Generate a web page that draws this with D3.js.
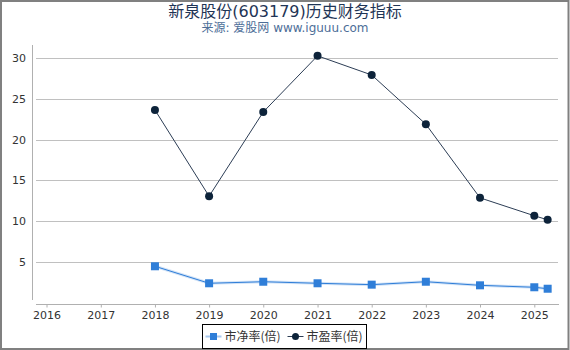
<!DOCTYPE html>
<html>
<head>
<meta charset="utf-8">
<script src="https://cdn.jsdelivr.net/npm/d3@7"></script>
<style>
  body { margin: 0; background: #fff; }
  svg { display: block; font-family: "DejaVu Sans", "Noto Sans CJK SC", sans-serif; }
  .grid line { stroke: #c0c0c0; }
</style>
</head>
<body>
<svg id="chart" width="570" height="350"></svg>
<script>
// data
const dates = ["2018-01-01", "2019-01-01", "2020-01-01", "2021-01-01", "2022-01-01",
  "2023-01-01", "2024-01-01", "2025-01-01", "2025-04-01"];
const pb = [4.44, 2.35, 2.54, 2.35, 2.18, 2.54, 2.1, 1.86, 1.68];   // 市净率(倍)
const pe = [23.65, 13.05, 23.4, 30.3, 27.95, 21.9, 12.85, 10.65, 10.15]; // 市盈率(倍)
const yearTicks = [2016, 2017, 2018, 2019, 2020, 2021, 2022, 2023, 2024, 2025];
const yTicks = [5, 10, 15, 20, 25, 30];

const svg = d3.select("svg#chart");
const parse = d3.timeParse("%Y-%m-%d");

// outer frame
svg.append("rect")
  .attr("x", 1).attr("y", 1)
  .attr("width", 567.5).attr("height", 348)
  .attr("fill", "#fff")
  .attr("stroke", "#808080")
  .attr("stroke-width", 2);

// titles
svg.append("text")
  .attr("x", 285).attr("y", 17)
  .attr("text-anchor", "middle")
  .style("font-size", "16px")
  .attr("fill", "#1f3556")
  .text("新泉股份(603179)历史财务指标");
svg.append("text")
  .attr("x", 285).attr("y", 32)
  .attr("text-anchor", "middle")
  .style("font-size", "12px")
  .attr("fill", "#4d6e98")
  .text("来源: 爱股网 www.iguuu.com");

// scales
const x = d3.scaleTime()
  .domain([new Date(2016, 0, 1), new Date(2025, 0, 1)])
  .range([46.5, 534.3]);
const y = d3.scaleLinear()
  .domain([0, 30])
  .range([302.4, 58.3]);

// gridlines
svg.append("g").attr("class", "grid")
  .selectAll("line").data(yTicks).join("line")
  .attr("x1", 36).attr("x2", 558)
  .attr("y1", d => Math.round(y(d)) + 0.5)
  .attr("y2", d => Math.round(y(d)) + 0.5);

// y axis
svg.append("line")
  .attr("x1", 32.5).attr("x2", 32.5)
  .attr("y1", 45).attr("y2", 300)
  .attr("stroke", "#b0b0b0");
svg.append("g")
  .selectAll("text").data(yTicks).join("text")
  .attr("x", 26)
  .attr("y", d => y(d) + 4)
  .attr("text-anchor", "end")
  .style("font-size", "11px")
  .attr("fill", "#333")
  .text(d => d);

// x axis
const xAxis = d3.axisBottom(x)
  .tickValues(yearTicks.map(d => new Date(d, 0, 1)))
  .tickFormat(d3.timeFormat("%Y"))
  .tickSize(3)
  .tickSizeOuter(0);
const gx = svg.append("g")
  .attr("transform", "translate(0,304.5)")
  .call(xAxis);
gx.select(".domain").remove();
gx.append("line")
  .attr("x1", 36).attr("x2", 559)
  .attr("stroke", "#b0b0b0");
gx.selectAll(".tick line").attr("stroke", "#b0b0b0");
gx.selectAll(".tick text")
  .attr("y", 7)
  .style("font-size", "11px")
  .style("font-family", "DejaVu Sans, sans-serif")
  .attr("fill", "#333");

// series
const pbData = dates.map((d, i) => ({ date: parse(d), v: pb[i] }));
const peData = dates.map((d, i) => ({ date: parse(d), v: pe[i] }));
const line = d3.line().x(d => x(d.date)).y(d => y(d.v));

svg.append("path").datum(pbData)
  .attr("fill", "none")
  .attr("stroke", "#d2e3f7")
  .attr("stroke-width", 3)
  .attr("d", line);
svg.append("path").datum(pbData)
  .attr("fill", "none")
  .attr("stroke", "#2f7ed8")
  .attr("stroke-width", 1)
  .attr("d", line);
svg.append("g")
  .selectAll("rect").data(pbData).join("rect")
  .attr("x", d => x(d.date) - 4)
  .attr("y", d => y(d.v) - 4)
  .attr("width", 8).attr("height", 8)
  .attr("fill", "#2f7ed8");

svg.append("path").datum(peData)
  .attr("fill", "none")
  .attr("stroke", "#2c3d55")
  .attr("stroke-width", 1)
  .attr("d", line);
svg.append("g")
  .selectAll("circle").data(peData).join("circle")
  .attr("cx", d => x(d.date))
  .attr("cy", d => y(d.v))
  .attr("r", 4)
  .attr("fill", "#0d233a");

// legend
const legend = svg.append("g").attr("transform", "translate(202.5,324.5)");
legend.append("rect")
  .attr("width", 164).attr("height", 24)
  .attr("fill", "#fff")
  .attr("stroke", "#000")
  .attr("stroke-width", 1);
const items = [
  { name: "市净率(倍)", color: "#2f7ed8", shape: "square" },
  { name: "市盈率(倍)", color: "#0d233a", shape: "circle" }
];
items.forEach((it, i) => {
  const g = legend.append("g").attr("transform", `translate(${3 + i * 82},12)`);
  g.append("line").attr("x1", 0).attr("x2", 16)
    .attr("stroke", it.shape === "square" ? "#a9c9ef" : "#2c3d55")
    .attr("stroke-width", it.shape === "square" ? 2 : 1);
  if (it.shape === "square") {
    g.append("rect").attr("x", 4.5).attr("y", -3.5).attr("width", 7).attr("height", 7).attr("fill", it.color);
  } else {
    g.append("circle").attr("cx", 8).attr("cy", 0).attr("r", 3.5).attr("fill", it.color);
  }
  g.append("text")
    .attr("x", 19).attr("y", 4.5)
    .style("font-size", "12px")
    .style("font-family", "Noto Sans CJK SC, DejaVu Sans, sans-serif")
    .attr("fill", "#333")
    .text(it.name);
});
</script>
</body>
</html>
